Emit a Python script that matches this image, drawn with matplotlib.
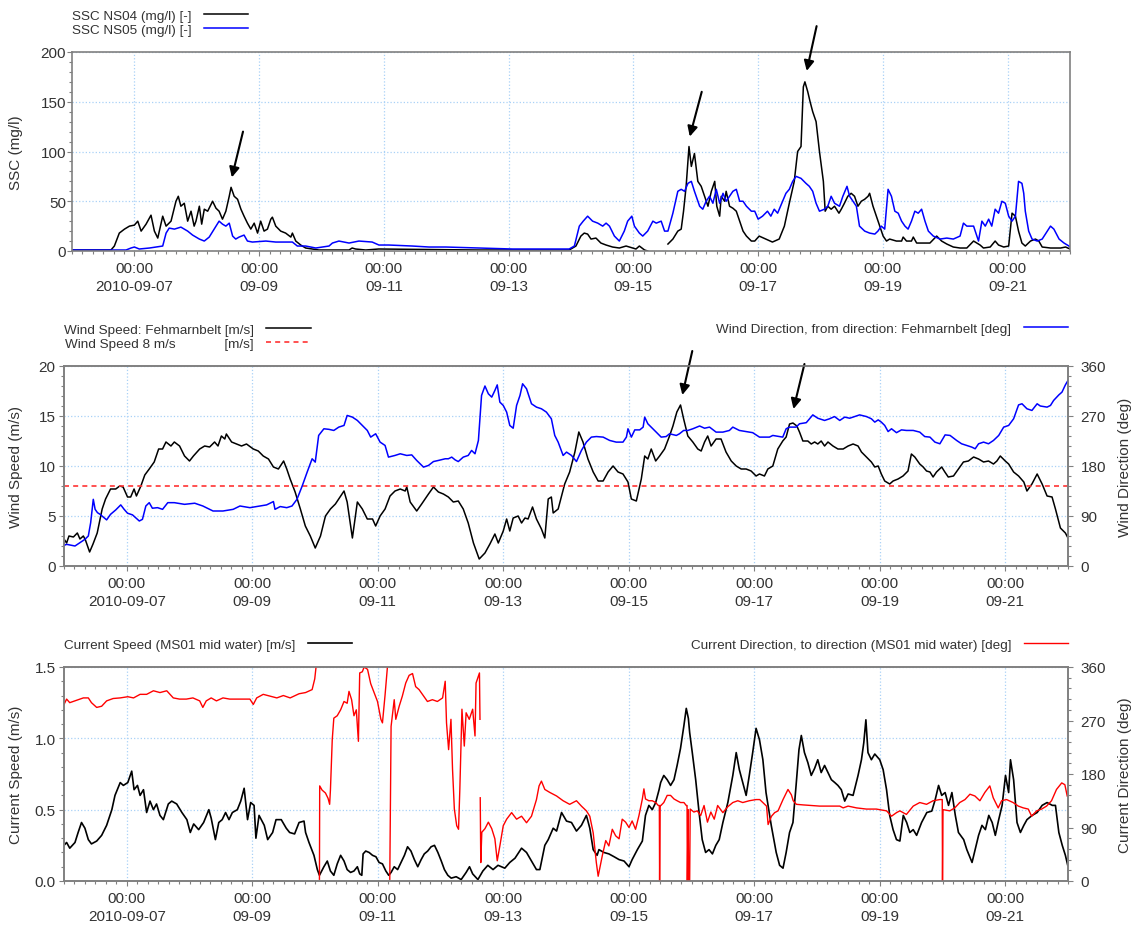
import numpy as np
import pandas as pd
import matplotlib
matplotlib.use('Agg')
import matplotlib.pyplot as plt
import matplotlib.dates as mdates
from matplotlib.ticker import MultipleLocator, FormatStrFormatter

plt.rcParams['font.family'] = ['Liberation Sans', 'DejaVu Sans']

nan = np.nan

# ---- data (hours after 2010-09-06 00:00) ----
ssc04_h = [0, 15, 16.3, 18.2, 20.2, 22.1, 24, 25.3, 26.6, 28.5, 30.4, 31.7, 33, 34.9, 36.2, 38.1, 40, 40.9,
           41.9, 43.2, 44.5, 45.8, 47, 47.7, 49, 49.9, 50.9, 52.2, 54.1, 55.4, 56.6, 57.9, 59.2, 60.5, 61.2,
           62.4, 63.7, 65, 66.2, 67.5, 68.8, 70.1, 71.4, 72.6, 73.9, 75.2, 76.5, 77.1, 78.4, 80.3, 82.2, 84.2,
           84.8, 86.1, 88, 89.9, 92.5, 95, 106.6, 107.8, 109.1, 113, 118, 156.6, 191.3, 193.9, 195.8, 197.1,
           198.4, 199.7, 201.6, 203.5, 205.5, 208, 210.6, 213.2, 215.8, 217, 218.3, 220.3, 221.5, 225,
           229.3, 231.2, 233.1, 234.4, 235.3, 236.3, 237.4, 238.3, 239.5, 240.8, 242.1, 243.4, 244.7, 246,
           247.3, 248.1, 249.2, 249.8, 251.1, 251.7, 253, 254.3, 255.6, 256.9, 258.2, 259.5, 261.4, 262.7,
           264.4, 267, 269.5, 272.1, 274.1, 276, 277.9, 279.2, 280.5, 281.4, 282, 283.1, 284, 285, 286.3,
           287.6, 288.6, 289.1, 289.8, 290.8, 292.1, 293.4, 295.1, 296, 297.2, 298.5, 299.8, 301.1, 302.4,
           303.7, 305, 306.3, 306.9, 308.2, 309.5, 310.8, 312.1, 313.4, 314.6, 317.2, 319.2, 319.8, 321.1,
           323, 323.7, 325, 327.5, 330.1, 332.7, 334.6, 336.6, 339.1, 341.7, 344.3, 346.9, 349.4, 350.7,
           353.3, 355.2, 356.5, 358.5, 360.4, 361.7, 363, 364.2, 365.5, 366.8, 368.8, 370.7, 372, 373.3,
           376.5, 380.4, 382.3, 384]
ssc04_v = [1, 1, 5, 18, 22, 25, 26, 30, 20, 27, 36, 20, 13, 35, 25, 30, 50, 55,
           45, 48, 30, 40, 25, 30, 45, 27, 42, 40, 50, 43, 40, 32, 40, 55, 64,
           55, 52, 42, 35, 28, 22, 28, 18, 30, 20, 22, 32, 34, 25, 20, 18, 14,
           18, 10, 6, 3, 2, 1, 1, 3, 2, 1, 2, 1, 1, 5, 15, 18,
           17, 12, 13, 8, 6, 4, 3, 5, 3, 2, 5, 1, 0, nan,
           7, 12, 20, 22, 40, 65, 105, 85, 98, 70, 65, 55, 45, 60,
           70, 45, 35, 55, 50, 60, 45, 43, 40, 30, 20, 15, 10, 10,
           15, 12, 9, 12, 25, 48, 70, 100, 105, 165, 170, 160, 150, 140, 130,
           100, 80, 70, 40, 45, 42, 45, 38, 42, 48, 55, 58, 55, 45,
           50, 52, 55, 58, 45, 35, 25, 15, 10, 12, 10, 10, 14, 10,
           10, 14, 8, 8, 8, 15, 10, 7, 4, 3, 3, 10, 6, 3,
           4, 10, 6, 4, 5, 38, 35, 20, 8, 5, 10, 12, 10, 4,
           3, 3, 4, 2]

ssc05_h = [0, 20.8, 22.7, 24, 25.9, 29.8, 34.9, 36.2, 37.4, 39.4, 41.9, 44.5, 46.4, 49, 50.9, 52.8, 54.7,
           56.6, 57.9, 59.2, 60.5, 61.8, 63, 64.3, 66.2, 67.5, 69.4, 74.6, 78.4, 84.8, 86.7, 89.9, 93.8,
           98.9, 100.2, 102.7, 106.6, 110.4, 115.5, 118.1, 121.9, 130.9, 137.4, 143.8, 156.6, 169.5, 191.3,
           193.3, 195.2, 196.7, 198.4, 200.3, 202.3, 204.2, 205.5, 206.8, 208.7, 210.6, 212.5, 213.8, 215.4,
           216.4, 218.3, 219.6, 221.5, 223.5, 224.8, 226.7, 228, 229.3, 231.2, 233.1, 234.4, 235.7, 237,
           238.3, 239.5, 241.5, 242.7, 244, 245.3, 246.6, 247.9, 249.2, 250.5, 251.7, 253, 254.3, 255.6,
           256.9, 258.2, 259.5, 261.4, 262.7, 264, 265.7, 267.6, 268.9, 270.2, 271.5, 273.4, 274.7, 276,
           277.3, 278.6, 280.5, 282.4, 283.7, 285, 286.3, 287.6, 289.5, 290.8, 292.1, 293.4, 295.3, 296.6,
           298.2, 299.2, 300.5, 301.8, 303, 305, 306.9, 308.9, 310.1, 311.4, 312.7, 314, 315.3, 316.6,
           317.9, 319.2, 320.5, 321.7, 323, 324.3, 325.6, 326.9, 328.2, 329.5, 331.4, 334, 336.6, 339.1,
           341.7, 343, 344.3, 346.9, 348.8, 350.1, 351.4, 352.7, 353.9, 355.2, 356.5, 357.8, 359.1, 360.4,
           361.7, 363, 364.2, 365.5, 366.2, 366.8, 368.1, 369.4, 371.4, 373.3, 375.3, 376.5, 377.8, 379.8,
           381.7, 383.6, 384]
ssc05_v = [1, 1, 3, 4, 2, 3, 5, 18, 23, 22, 24, 20, 16, 12, 10, 14, 22,
           30, 27, 25, 28, 15, 12, 14, 16, 10, 9, 10, 9, 9, 5, 5, 3,
           5, 8, 10, 8, 10, 9, 6, 6, 5, 4, 4, 3, 2, 2,
           5, 25, 30, 35, 30, 28, 25, 28, 25, 15, 10, 20, 30, 35,
           25, 18, 15, 20, 30, 28, 30, 20, 20, 38, 60, 62, 60, 68,
           70, 60, 45, 42, 50, 55, 48, 62, 48, 58, 50, 55, 60, 62,
           50, 50, 45, 40, 40, 32, 35, 40, 35, 42, 38, 50, 58, 62,
           70, 75, 73, 68, 65, 60, 48, 40, 42, 45, 55, 48, 45, 55,
           65, 55, 50, 45, 25, 20, 18, 17, 20, 25, 22, 62, 55, 40,
           38, 30, 25, 22, 30, 40, 38, 42, 30, 20, 15, 12, 13, 12,
           15, 28, 25, 25, 10, 30, 25, 32, 25, 42, 38, 50, 48, 35,
           30, 35, 70, 68, 58, 40, 20, 12, 10, 12, 20, 25, 22, 12,
           8, 5, 4]

wspd_h = [0, 1, 1.9, 3.6, 5.1, 6.1, 7.4, 8.2, 9.8, 11.1, 12.7, 14.6, 15.9, 17.8, 19.8, 21.3, 22.6, 24.3,
          25.5, 26.8, 27.7, 29.4, 30.9, 32.6, 34.5, 36.2, 37.7, 39, 40.9, 42.2, 44.2, 46.1, 48, 49.5, 51.9,
          53.8, 55.7, 57.6, 58.9, 60.2, 61.5, 62.1, 64.1, 66, 67.9, 69.8, 72.4, 74.3, 76.2, 78.2, 80.1, 82,
          84, 85.2, 86.5, 88.4, 90.4, 92.3, 94.2, 96.1, 98.1, 100, 101.9, 103.8, 105.8, 107.1, 108.3, 110.3,
          112.2, 114.1, 116, 118, 119.2, 120.9, 122.8, 124.7, 126.6, 128.6, 130.5, 131.1, 132.4, 134.9,
          136.8, 139.4, 141.3, 143.2, 145.1, 147, 148.9, 150.8, 152.7, 154.6, 156.6, 158.8, 161, 162.9,
          164.8, 166.1, 168, 169.3, 170.5, 171.8, 173.7, 175, 176.3, 177.5, 179.2, 180.7, 182.6, 183.9,
          185.2, 186.4, 187.1, 189, 190.3, 191.5, 193.4, 195.4, 196.9, 198.5, 200.4, 202.4, 204.3, 206.2,
          208.1, 210, 211.9, 213.8, 215.7, 217, 218.9, 220.8, 222.1, 223.3, 224.6, 226.3, 227.8, 229.7,
          231.6, 232.9, 234.4, 235.8, 237, 238.6, 240.5, 242.4, 243.7, 245, 246.2, 247.5, 249.4, 251.3,
          253.2, 255.2, 257.1, 259, 260.9, 262.8, 264.7, 266, 267.9, 269.2, 271.1, 273, 274.9, 276.2,
          277.5, 278.8, 280.3, 281.3, 282.6, 284.5, 285.8, 287.1, 288.3, 289.6, 290.9, 292.2, 294.1, 296,
          298, 299.9, 301.8, 303.7, 305, 306.9, 308.8, 310.1, 311.4, 312.6, 313.9, 315.8, 317.1, 319,
          320.9, 322.8, 324.1, 325.4, 327.3, 328.6, 329.9, 331.2, 332.4, 333.7, 335.7, 336.9, 338.2, 340.2,
          342.1, 344, 345.9, 347.9, 349.8, 351.7, 353.6, 355.5, 356.8, 358.1, 360, 361.3, 363.2, 365.1,
          367.1, 368.3, 370.2, 372.2, 374.1, 376, 377.9, 379.2, 381.1, 383, 384]
wspd_v = [2.7, 2.3, 3.0, 2.9, 3.3, 2.7, 3.0, 2.6, 1.4, 2.2, 3.3, 5.7, 6.7, 7.7, 7.7, 8.0, 7.9, 6.9,
          6.9, 7.7, 7.0, 8.0, 9.1, 9.7, 10.4, 11.7, 11.7, 12.4, 12.0, 12.4, 12.0, 11.0, 10.5, 11.0, 11.7,
          12.0, 11.9, 12.4, 12.0, 13.0, 12.7, 13.2, 12.4, 12.2, 12.0, 12.2, 11.7, 11.5, 11.0, 10.7, 9.9, 9.7,
          10.5, 9.7, 8.7, 7.4, 5.7, 4.0, 3.0, 1.8, 3.0, 5.0, 5.7, 6.2, 7.0, 7.5, 6.4, 2.8,
          6.4, 5.7, 4.7, 4.7, 4.0, 5.0, 5.7, 7.0, 7.5, 7.7, 7.5, 7.9, 6.4, 5.5,
          6.2, 7.2, 7.9, 7.4, 7.2, 6.9, 6.4, 6.5, 5.7, 4.3, 2.3, 0.7, 1.3, 2.2,
          3.2, 2.3, 3.5, 4.7, 3.5, 4.8, 5.0, 4.3, 4.8, 4.7, 5.9, 4.7, 3.7, 2.8,
          6.7, 6.9, 5.3, 5.7, 7.0, 8.2, 9.4, 11.4, 13.4, 12.4, 10.7, 9.4, 8.5, 8.5,
          9.4, 10.0, 9.4, 9.2, 8.4, 6.7, 6.5, 8.7, 11.0, 10.7, 11.7, 10.5, 11.0, 11.7,
          13.0, 14.0, 15.4, 16.1, 14.7, 13.0, 12.4, 11.7, 11.5, 12.4, 13.0, 12.0, 12.7, 12.7,
          11.4, 10.5, 10.0, 9.7, 9.7, 9.5, 9.0, 9.2, 9.0, 9.7, 10.0, 11.7, 12.5, 12.9,
          14.2, 14.3, 14.0, 13.4, 12.5, 12.5, 12.2, 12.4, 12.2, 12.5, 12.0, 12.4, 12.0, 11.7,
          11.7, 12.0, 12.2, 12.0, 11.4, 10.9, 10.4, 9.9, 10.0, 9.2, 8.5, 8.2, 8.5, 8.7,
          9.0, 9.5, 11.2, 10.9, 10.2, 9.9, 9.5, 9.4, 8.9, 9.4, 9.9, 9.4, 8.9, 9.0,
          9.7, 10.4, 10.5, 10.9, 10.7, 10.4, 10.5, 10.2, 10.5, 11.0, 10.5, 10.2, 9.4, 9.0,
          8.4, 7.5, 8.2, 9.2, 8.2, 7.0, 6.9, 5.7, 3.8, 3.3, 2.8]

wlimit_h = [0, 384]
wlimit_v = [8, 8]

wdir_h = [0, 1, 4.2, 6.1, 8, 9.3, 10.2, 11.2, 11.9, 12.8, 13.8, 16.3, 17.8, 19.8, 21.7, 23, 24.3, 26.2,
          28.8, 30, 31.3, 32.6, 33.8, 35.8, 37.7, 39.7, 42.2, 46.1, 50, 53.1, 57, 60.8, 64.7, 67.3, 71.1,
          75, 77.5, 80.1, 80.7, 82.7, 85.2, 87.2, 89.1, 91.1, 93, 94.9, 96.1, 97.4, 99.4, 101.3, 103.2,
          105.1, 107.1, 108.3, 110.3, 112.2, 114.1, 116, 117.3, 119.2, 120.9, 122.8, 124.1, 126.6, 128.6,
          131.1, 133, 134.9, 137.5, 139.4, 141.3, 143.2, 145.8, 147, 148.3, 149.6, 150.8, 152.7, 154.6,
          155.9, 157.2, 158.5, 159.7, 161, 162.3, 163.6, 164.8, 165.7, 166.7, 168, 169.3, 170.5, 171.8,
          173.1, 174.4, 175.4, 176.9, 178.8, 180.7, 182.6, 184.5, 186.4, 187.7, 189, 190.9, 192.2, 194.1,
          196, 197.9, 199.8, 201.7, 203.6, 206.2, 208.7, 211.2, 213.8, 215.1, 215.7, 217, 218.3, 220.2,
          221.5, 222.1, 223.3, 224.6, 226.5, 228.4, 230.3, 231.6, 234.2, 235.4, 237, 238.6, 240.5, 243.1,
          245, 246.9, 249.4, 252, 254.5, 255.8, 258.3, 260.9, 263.4, 266, 269.8, 271.1, 273.6, 274.9,
          276.2, 277.5, 280, 281.3, 283.9, 286.4, 288.3, 290.9, 292.8, 294.7, 296.7, 298.6, 300.5, 302.4,
          304.3, 306.9, 308.8, 310.1, 311.4, 312.6, 313.9, 315.2, 316.5, 318.4, 320.3, 322.2, 324.8, 327.3,
          329.2, 331.2, 333.1, 335, 337, 338.9, 341.4, 343.3, 345.3, 347.2, 348.5, 349.8, 351.7, 353.6,
          355.5, 357.5, 359.4, 361.3, 363.2, 365.1, 366.4, 368.3, 370.2, 372.2, 373.4, 376, 377.3, 378.5,
          380.5, 381.7, 383, 384]
wdir_v = [37, 39, 36, 42, 48, 54, 78, 120, 102, 96, 93, 83, 93, 101, 110, 102, 95, 92,
          81, 84, 108, 114, 104, 105, 102, 114, 114, 111, 113, 108, 99, 99, 102, 108, 105,
          108, 110, 116, 102, 107, 105, 108, 120, 144, 169, 193, 187, 235, 247, 246, 244,
          250, 253, 271, 268, 262, 253, 244, 232, 238, 223, 217, 196, 199, 202,
          199, 200, 190, 178, 181, 188, 190, 193, 193, 196, 191, 188, 196, 199,
          208, 202, 226, 307, 324, 310, 304, 316, 326, 295, 289, 277, 253, 248,
          289, 307, 328, 319, 292, 286, 283, 277, 265, 235, 223, 199, 205, 199,
          188, 208, 223, 232, 233, 232, 226, 223, 223, 232, 247, 232, 245, 245,
          250, 268, 256, 250, 241, 232, 233, 238, 235, 238, 244, 244, 247, 252,
          248, 250, 241, 241, 244, 250, 244, 242, 240, 232, 232, 235, 233, 232,
          247, 250, 250, 256, 258, 272, 266, 262, 265, 269, 262, 268, 266, 269,
          272, 269, 265, 259, 263, 259, 253, 242, 247, 240, 245, 244, 244, 241,
          233, 232, 223, 220, 236, 235, 226, 220, 217, 214, 211, 220, 223, 220,
          226, 235, 250, 253, 265, 290, 292, 283, 280, 292, 288, 286, 289, 298,
          308, 313, 326, 334]

cspd_h = [0, 1, 2.2, 4.2, 5.4, 6.7, 8, 9.3, 10.5, 12.5, 14.4, 16.3, 18.3, 19.5, 21.5, 22.7, 24.4, 25.9,
          26.8, 28.1, 29.1, 30.4, 31.6, 32.9, 34.2, 35.4, 36.7, 38, 39.9, 41.2, 43.1, 45.1, 47, 48.3, 49.6,
          51.5, 53.4, 55.4, 56.3, 57.9, 59.2, 60.5, 61.8, 63.1, 64.4, 66.3, 67.6, 68.9, 70.2, 71.4, 72.7,
          73.4, 74.6, 76.6, 77.9, 79.8, 81.1, 83.1, 85, 86.3, 88.2, 89.9, 91.8, 92.4, 93.7, 95.6, 96.9,
          97.7, 99.4, 100.7, 101.9, 103.2, 104.5, 105.8, 107.1, 108.3, 109.6, 110.9, 112.2, 113.1, 113.9,
          114.4, 115.4, 116.7, 118, 119.3, 120.5, 121.8, 123.1, 124.2, 125.1, 126.3, 127.6, 128.9, 130.2,
          131.4, 132.7, 134, 135.3, 136.6, 137.8, 139.1, 140.4, 141.7, 143, 144.3, 145.5, 146.8, 148.1,
          150, 151.9, 153.8, 155.1, 156.3, 158.3, 160.2, 162.1, 164.1, 166, 168.6, 170.5, 172.5, 175,
          176.9, 178.8, 180.7, 182, 183.9, 185.2, 187.1, 188.4, 190.3, 192.2, 194.1, 196, 197.9, 199.8,
          201.1, 202.4, 203.9, 204.6, 206.5, 208.4, 210.4, 212.3, 214.2, 216.1, 217.3, 219.3, 221.2,
          222.4, 223.7, 225, 226.3, 227.6, 228.2, 229.4, 230.7, 232, 233.3, 234.5, 235.8, 237.1, 238,
          238.8, 239.3, 240.3, 241.6, 242.9, 244.1, 245.4, 246.7, 248, 249.3, 250.6, 252, 253.9, 255.8,
          257.1, 258.3, 259.6, 260.9, 262.1, 263.4, 264.7, 266, 267.3, 268.5, 270.5, 272.4, 273.7, 275,
          276.2, 277.5, 278.8, 280, 281.1, 282, 283.2, 284.5, 285.8, 287.1, 288.3, 289.6, 290.9, 292.2,
          293.5, 294.8, 296, 297.3, 298.6, 299.9, 301.8, 303.7, 305, 305.9, 306.7, 307.5, 308.8, 310.1,
          312, 313.3, 314.6, 315.8, 317.1, 318.4, 319.7, 321, 322.3, 323.5, 324.8, 326.1, 328, 330,
          331.9, 333.2, 334.5, 335.7, 337, 338.3, 339.6, 340.9, 342.1, 344.1, 345.3, 347.3, 348.5, 349.8,
          351.1, 352.4, 353.7, 355, 356.2, 357.5, 358.8, 360.1, 361.3, 362, 363.2, 364.5, 365.8, 367.1,
          368.3, 370.3, 372.2, 374.1, 376, 378, 379.2, 380.5, 381.8, 383, 383.9]
cspd_v = [0.25, 0.27, 0.23, 0.27, 0.34, 0.41, 0.37, 0.29, 0.26, 0.28, 0.32, 0.39, 0.50, 0.60, 0.69, 0.67, 0.69, 0.77,
          0.64, 0.67, 0.60, 0.64, 0.48, 0.56, 0.50, 0.54, 0.46, 0.43, 0.54, 0.56, 0.54, 0.48, 0.43, 0.34, 0.40,
          0.36, 0.41, 0.50, 0.44, 0.29, 0.41, 0.43, 0.48, 0.43, 0.48, 0.50, 0.56, 0.65, 0.43, 0.55, 0.53,
          0.30, 0.46, 0.39, 0.29, 0.34, 0.43, 0.43, 0.37, 0.34, 0.33, 0.41, 0.42, 0.34, 0.27, 0.18, 0.08,
          0.04, 0.10, 0.14, 0.07, 0.04, 0.12, 0.18, 0.14, 0.08, 0.06, 0.07, 0.10, 0.05, 0.04,
          0.19, 0.21, 0.20, 0.18, 0.17, 0.13, 0.12, 0.07, 0.04, 0.06, 0.10, 0.08, 0.13, 0.18,
          0.24, 0.21, 0.15, 0.10, 0.15, 0.19, 0.21, 0.24, 0.25, 0.20, 0.14, 0.08, 0.04, 0.02,
          0.03, 0.01, 0.06, 0.10, 0.05, 0.01, 0.07, 0.11, 0.08, 0.11, 0.09, 0.13, 0.16, 0.23,
          0.20, 0.14, 0.08, 0.08, 0.25, 0.29, 0.37, 0.35, 0.48, 0.42, 0.41, 0.35, 0.39, 0.46,
          0.37, 0.22, 0.18, 0.22, 0.20, 0.19, 0.17, 0.15, 0.14, 0.10, 0.15, 0.22, 0.28,
          0.46, 0.53, 0.50, 0.55, 0.64, 0.69, 0.74, 0.71, 0.67, 0.71, 0.81, 0.93, 1.09, 1.21,
          1.14, 1.04, 0.90, 0.71, 0.48, 0.29, 0.20, 0.22, 0.19, 0.25, 0.29, 0.41, 0.55, 0.74,
          0.90, 0.78, 0.69, 0.60, 0.74, 0.90, 1.07, 0.99, 0.85, 0.62, 0.39, 0.20, 0.11, 0.09,
          0.20, 0.34, 0.41, 0.67, 0.92, 1.02, 0.90, 0.83, 0.74, 0.79, 0.85, 0.76, 0.81, 0.76,
          0.71, 0.69, 0.67, 0.64, 0.56, 0.61, 0.60, 0.74, 0.85, 0.97, 1.13, 0.90, 0.85, 0.89,
          0.85, 0.78, 0.64, 0.46, 0.36, 0.29, 0.28, 0.46, 0.41, 0.34, 0.36, 0.32, 0.41, 0.48,
          0.49, 0.57, 0.67, 0.60, 0.62, 0.53, 0.62, 0.46, 0.34, 0.29, 0.22, 0.13, 0.22, 0.32,
          0.39, 0.36, 0.46, 0.41, 0.32, 0.43, 0.53, 0.74, 0.62, 0.85, 0.71, 0.41, 0.34, 0.39,
          0.43, 0.46, 0.48, 0.53, 0.55, 0.53, 0.53, 0.34, 0.25, 0.18, 0.11]

cdir_h = [0, 1, 2.2, 4.2, 6.1, 7.4, 9.3, 10.5, 12.5, 14.4, 16.3, 18.8, 21.5, 24.4, 26.6, 29.1, 31.6, 34.2,
          36.7, 39.3, 41.8, 44.2, 46.8, 49.3, 51.9, 53.1, 54.4, 56.3, 58.3, 60.8, 63.4, 66, 68.5, 71.1,
          72.4, 73.7, 76.2, 78.8, 81.4, 83.9, 86.5, 89.9, 92.4, 94.9, 95.9, 96.4, 97.0, 97.7, 97.8, 98.7,
          100, 101, 101.6, 101.9, 102.6, 103.2, 104.5, 105.8, 107.1, 108.3, 109, 110, 110.9, 111.8, 112.6,
          113.1, 114.1, 114.8, 116.1, 117.3, 118.6, 119.9, 121.2, 121.8, 122.8, 123.7, 124.2, 124.6, 125.1,
          126.3, 126.9, 128.2, 129.4, 130.7, 132, 133.3, 134.5, 135.8, 137.1, 139, 140.9, 142.8, 144.8,
          145.8, 146.3, 147.1, 148, 148.6, 149.3, 150.2, 150.9, 151.4, 152.2, 153.1, 153.8, 155, 156.3,
          157.2, 157.6, 158.9, 159.1, 159.15, 159.2, 159.4, 159.8, 161, 162.3, 163.6, 164.8, 165.7, 166.7,
          168, 169.3, 171.2, 173.1, 175, 176.9, 178.8, 180.7, 181.7, 182.6, 183.9, 185.8, 188.4, 190.9,
          193.4, 196, 197.9, 199.8, 201.1, 202.4, 203.6, 204.3, 205.9, 207.2, 208.4, 209.7, 211, 212.3,
          213.5, 214.8, 216.1, 217.3, 218.6, 219.9, 221.2, 221.8, 222.4, 223.7, 225, 226.3, 227.3, 227.7,
          227.8, 228.0, 228.3, 229.4, 230.7, 232, 233.3, 234.5, 235.8, 237.1, 238, 238.3, 238.4, 238.7,
          238.9, 239.3, 239.5, 240.9, 242.2, 243.5, 244.8, 246.1, 247.4, 248.7, 250, 252, 253.9, 255.8,
          257.7, 259.6, 262.1, 264.7, 266.1, 268.7, 269.3, 270.6, 271.8, 273.1, 275, 276.9, 278.2, 278.9,
          280.1, 282.7, 289, 296.7, 298, 299.9, 303.1, 306.9, 310.7, 314.6, 316.5, 318.4, 319.7, 322.2,
          324.8, 327.3, 329.9, 332.4, 335, 335.9, 336, 336.2, 338.8, 340.7, 342.6, 344.6, 346.5, 348.4,
          350.3, 352.2, 354.1, 355.4, 357.3, 358.6, 360.5, 363, 365, 366.9, 368.8, 370.1, 372, 373.9,
          375.8, 377.7, 379.6, 381.6, 382.8, 383.7]
cdir_v = [297, 306, 300, 303, 306, 308, 308, 300, 292, 294, 303, 307, 308, 310, 308, 314, 314, 320,
          317, 320, 308, 306, 306, 308, 303, 292, 303, 308, 303, 308, 306, 306, 306, 306,
          297, 308, 314, 311, 308, 312, 308, 315, 317, 322, 340, 360, nan, 3, 160, 153,
          148, 139, 129, 153, 238, 274, 278, 288, 302, 299, 319, 305, 278, 288, 235,
          350, 352, 360, 356, 332, 317, 302, 272, 266, 313, 360, nan, 3, 260,
          305, 272, 294, 311, 333, 346, 349, 327, 322, 314, 302, 305, 302, 308,
          336, 266, 221, 272, 188, 121, 93, 87, 155, 289, 227, 283, 272, 289,
          244, 333, 350, 272, nan, 140, 31, 82, 88, 99, 88, 71, 34, 59,
          93, 104, 115, 104, 109, 98, 109, 137, 160, 168, 154, 149, 143, 135,
          129, 135, 126, 118, 109, 81, 31, 8, 43, 68, 59, 87, 76, 71,
          104, 99, 90, 101, 87, 110, 138, 155, 138, 135, 135, 132, 127, 127,
          0, 127, 127, 132, 144, 144, 138, 135, 132, 132, 127, 127, 0, 120,
          0, 0, 121, 116, 118, 110, 127, 99, 116, 104, 127, 115, 125, 132,
          135, 132, 135, 137, 137, 126, 95, 109, 115, 118, 137, 154, 145, 135,
          129, 128, 126, 126, 123, 126, 123, 121, 121, 118, 109, 115, 118, 112,
          126, 132, 129, 135, 137, 137, 0, 120, 118, 123, 132, 137, 146, 143,
          135, 149, 160, 140, 123, 135, 137, 132, 126, 123, 121, 109, 118, 121,
          126, 135, 154, 165, 162, 143]

# arrows pointing at peaks (head / tail, hours and values)
ssc_arrow_head_h = [61.5, 237.7, 282.7]
ssc_arrow_head_v = [74, 115, 181]
ssc_arrow_tail_h = [65.8, 242.3, 286.5]
ssc_arrow_tail_v = [120, 160, 226]
wind_arrow_head_h = [236.5, 279.0]
wind_arrow_head_v = [17.1, 15.7]
wind_arrow_tail_h = [240.3, 283.2]
wind_arrow_tail_v = [21.5, 20.2]

t0 = pd.Timestamp('2010-09-06 00:00')
t1 = pd.Timestamp('2010-09-22 00:00')
tick_days = pd.date_range('2010-09-07', '2010-09-21', freq='2D')
tick_labels = ['00:00\n' + (d.strftime('%Y-%m-%d') if i == 0 else d.strftime('%m-%d'))
               for i, d in enumerate(tick_days)]


def to_time(hours):
    return t0 + pd.to_timedelta(np.asarray(hours, dtype=float), unit='h')


SPINE = '#808080'
TXT = '#333333'
GRID = '#a9d1f7'
LEGFS = 9.7


def style_axes(ax, ylab, labx, ypad):
    ax.set_xlim(t0, t1)
    ax.set_xticks(tick_days, tick_labels, linespacing=1.35)
    ax.xaxis.set_minor_locator(mdates.HourLocator(byhour=range(0, 24, 4)))
    for s in ax.spines.values():
        s.set_color(SPINE)
        s.set_linewidth(1.2)
    ax.tick_params(axis='x', which='major', length=3.5, width=0.8, color=SPINE, pad=4,
                   labelsize=11, labelcolor=TXT)
    ax.tick_params(axis='x', which='minor', length=2.5, width=0.8, color=SPINE)
    ax.tick_params(axis='y', which='major', length=3.5, width=0.8, color=SPINE, pad=ypad,
                   labelsize=11, labelcolor=TXT)
    ax.tick_params(axis='y', which='minor', length=2.5, width=0.8, color=SPINE)
    ax.grid(True, which='major', color=GRID, linestyle=':', linewidth=0.9)
    ax.set_ylabel(ylab, fontsize=11, color=TXT)
    ax.yaxis.set_label_coords(labx, 0.5)


def style_right(ax2, ylab):
    ax2.set_ylim(0, 360)
    ax2.yaxis.set_major_locator(MultipleLocator(90))
    ax2.yaxis.set_minor_locator(MultipleLocator(18))
    ax2.tick_params(axis='y', which='major', length=3.5, width=0.8, color=SPINE, pad=5.5,
                    labelsize=11, labelcolor=TXT)
    ax2.tick_params(axis='y', which='minor', length=2.5, width=0.8, color=SPINE)
    for s in ax2.spines.values():
        s.set_color(SPINE)
        s.set_linewidth(1.2)
    ax2.set_ylabel(ylab, fontsize=11, color=TXT)
    ax2.yaxis.set_label_coords(1.0495, 0.5)


def legend(ax, loc, anchor):
    leg = ax.legend(loc=loc, bbox_to_anchor=anchor, markerfirst=False, frameon=False, fontsize=LEGFS,
                    handlelength=3.3, handletextpad=0.9, borderpad=0, borderaxespad=0,
                    labelspacing=0.15)
    for t in leg.get_texts():
        t.set_color(TXT)
    return leg


def arrows(ax, hh, hv, th, tv):
    for a, b, c, d in zip(hh, hv, th, tv):
        ax.annotate('', xy=(to_time([a])[0], b), xytext=(to_time([c])[0], d),
                    arrowprops=dict(arrowstyle='-|>', color='black', lw=1.5, mutation_scale=15,
                                    shrinkA=0, shrinkB=0),
                    annotation_clip=False)


fig = plt.figure(figsize=(11.37, 9.29), dpi=100)

# ---- panel 1: SSC ----
ax1 = fig.add_axes([72 / 1137, 1 - 252 / 929, 998 / 1137, 199 / 929])
ax1.plot(to_time(ssc04_h), ssc04_v, color='black', lw=1.1, label='SSC NS04 (mg/l) [-]')
ax1.plot(to_time(ssc05_h), ssc05_v, color='#0000ff', lw=1.1, label='SSC NS05 (mg/l) [-]')
ax1.set_ylim(0, 200)
ax1.yaxis.set_major_locator(MultipleLocator(50))
ax1.yaxis.set_minor_locator(MultipleLocator(10))
style_axes(ax1, 'SSC (mg/l)', -0.049, 0.8)
legend(ax1, 'lower left', (0.0, 1.08))
arrows(ax1, ssc_arrow_head_h, ssc_arrow_head_v, ssc_arrow_tail_h, ssc_arrow_tail_v)

# ---- panel 2: wind ----
ax2 = fig.add_axes([64 / 1137, 1 - 567 / 929, 1004 / 1137, 200 / 929])
ax2b = ax2.twinx()
ax2.plot(to_time(wspd_h), wspd_v, color='black', lw=1.1, label='Wind Speed: Fehmarnbelt [m/s]')
ax2.plot(to_time(wlimit_h), wlimit_v, color='#ff3333', lw=1.2, ls=(0, (3, 2.5)),
         label='Wind Speed 8 m/s             [m/s]')
ax2b.plot(to_time(wdir_h), wdir_v, color='#0000ff', lw=1.1,
          label='Wind Direction, from direction: Fehmarnbelt [deg]')
ax2.set_ylim(0, 20)
ax2.yaxis.set_major_locator(MultipleLocator(5))
ax2.yaxis.set_minor_locator(MultipleLocator(1))
style_axes(ax2, 'Wind Speed (m/s)', -0.041, 2.5)
style_right(ax2b, 'Wind Direction (deg)')
ax2b.set_xlim(t0, t1)
legend(ax2, 'lower left', (0.0, 1.08))
legend(ax2b, 'lower right', (1.0, 1.155))
arrows(ax2, wind_arrow_head_h, wind_arrow_head_v, wind_arrow_tail_h, wind_arrow_tail_v)

# ---- panel 3: current ----
ax3 = fig.add_axes([64 / 1137, 47 / 929, 1004 / 1137, 214 / 929])
ax3b = ax3.twinx()
ax3b.plot(to_time(cdir_h), cdir_v, color='#ff0000', lw=1.0,
          label='Current Direction, to direction (MS01 mid water) [deg]')
ax3.plot(to_time(cspd_h), cspd_v, color='black', lw=1.2, label='Current Speed (MS01 mid water) [m/s]')
ax3.set_ylim(0, 1.5)
ax3.yaxis.set_major_locator(MultipleLocator(0.5))
ax3.yaxis.set_minor_locator(MultipleLocator(0.1))
ax3.yaxis.set_major_formatter(FormatStrFormatter('%.1f'))
style_axes(ax3, 'Current Speed (m/s)', -0.041, 2.5)
style_right(ax3b, 'Current Direction (deg)')
ax3b.set_xlim(t0, t1)
legend(ax3, 'lower left', (0.0, 1.075))
legend(ax3b, 'lower right', (1.0, 1.075))

fig.savefig('out.png', dpi=100)
